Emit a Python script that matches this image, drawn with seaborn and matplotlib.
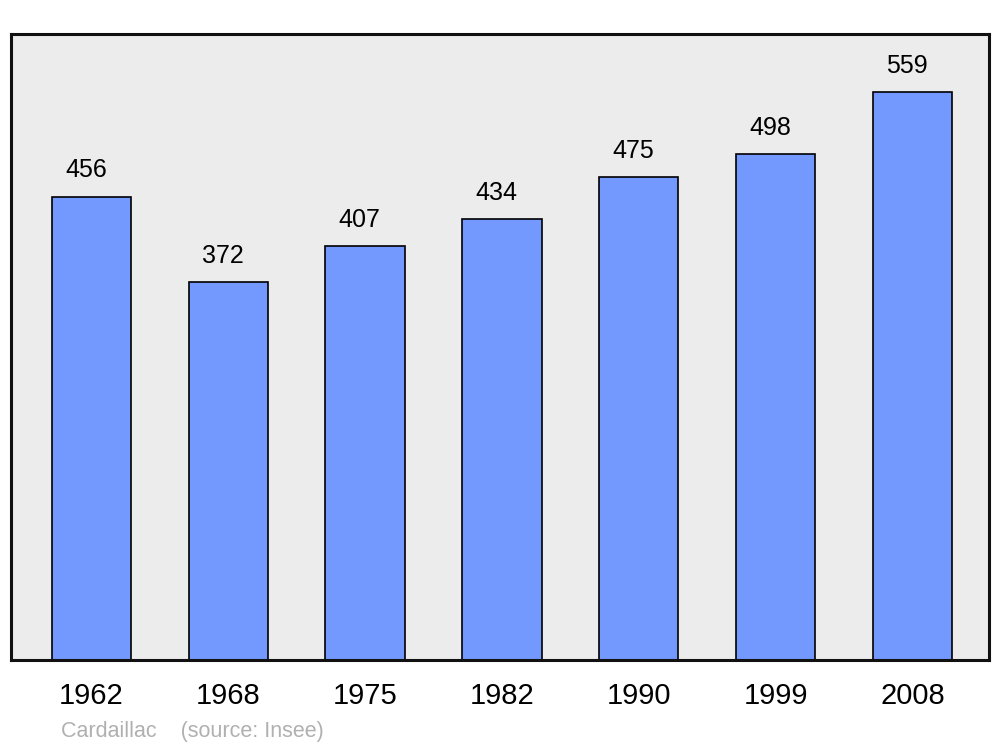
import matplotlib
matplotlib.use('Agg')
import matplotlib.pyplot as plt
import seaborn as sns
import pandas as pd

years = ['1962', '1968', '1975', '1982', '1990', '1999', '2008']
population = [456, 372, 407, 434, 475, 498, 559]

df = pd.DataFrame({'year': years, 'pop': population})

sns.set_style('white')
plt.rcParams['font.family'] = ['Liberation Sans', 'DejaVu Sans']
plt.rcParams['text.color'] = 'black'
plt.rcParams['xtick.color'] = 'black'

fig = plt.figure(figsize=(10, 7.47), dpi=100)
ax = fig.add_axes([0.011, 1 - 660 / 747, 0.978, 626 / 747])
ax.set_facecolor('#ececec')

sns.barplot(data=df, x='year', y='pop', color='#7399ff', saturation=1,
            width=0.58, edgecolor='black', linewidth=1.2, ax=ax)

# value labels above the bars
for i, v in enumerate(population):
    ax.text(i - 0.04, v + 14, str(v), ha='center', va='bottom',
            fontsize=18, color='black')

ax.set_xlim(-0.588, 6.56)
ax.set_ylim(0, 616)
ax.set_yticks([])
ax.set_xlabel('')
ax.set_ylabel('')
ax.tick_params(axis='x', length=0, labelsize=21, pad=16, labelcolor='black')
for s in ax.spines.values():
    s.set_visible(True)
    s.set_linewidth(2.2)
    s.set_color('#111111')

fig.text(0.061, 1 - 731 / 747, 'Cardaillac    (source: Insee)', fontsize=15.5,
         color='#b0b0b0', va='center', ha='left')

fig.savefig('out.png', dpi=100)
